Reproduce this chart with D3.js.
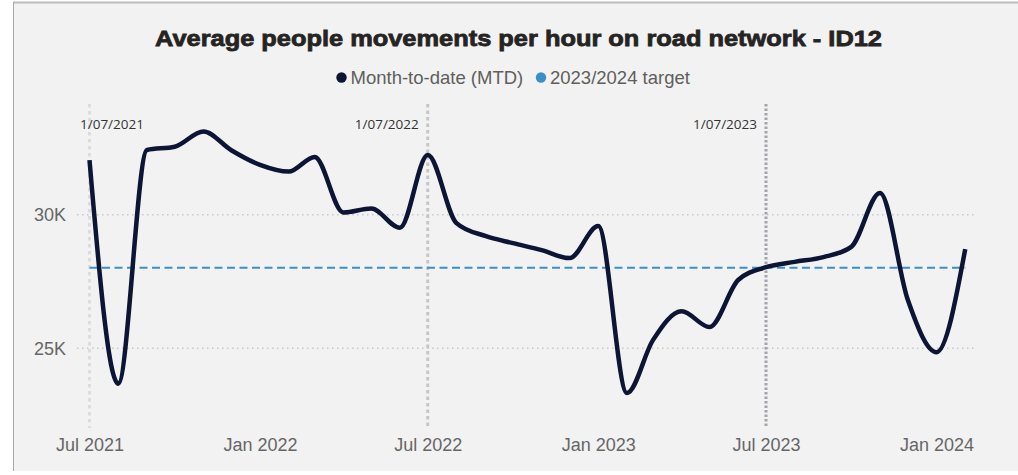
<!DOCTYPE html>
<html>
<head>
<meta charset="utf-8">
<script src="https://cdn.jsdelivr.net/npm/d3@7"></script>
<style>
  html, body { margin: 0; padding: 0; background: #ffffff; }
  svg { display: block; }
</style>
</head>
<body>
<svg id="chart" width="1018" height="475"></svg>
<script>
// Monthly month-to-date averages (thousands of people movements per hour)
const months = [
  "2021-07", "2021-08", "2021-09", "2021-10", "2021-11", "2021-12",
  "2022-01", "2022-02", "2022-03", "2022-04", "2022-05", "2022-06",
  "2022-07", "2022-08", "2022-09", "2022-10", "2022-11", "2022-12",
  "2023-01", "2023-02", "2023-03", "2023-04", "2023-05", "2023-06",
  "2023-07", "2023-08", "2023-09", "2023-10", "2023-11", "2023-12",
  "2024-01", "2024-02"
];
const mtdValues = [
  32.03, 23.66, 32.41, 32.53, 33.10, 32.40,
  31.85, 31.60, 32.15, 30.07, 30.22, 29.50,
  32.22, 29.67, 29.19, 28.92, 28.66, 28.36,
  29.56, 23.31, 25.29, 26.37, 25.78, 27.54,
  28.02, 28.22, 28.40, 28.78, 30.80, 26.80,
  24.84, 28.70
];
const targetValue = 28.0;

// Financial-year start markers
const yearStarts = ["2021-07-01", "2022-07-01", "2023-07-01"];
const yearStartLabels = ["1/07/2021", "1/07/2022", "1/07/2023"];

// Axis ticks
const xTickDates = ["2021-07-01", "2022-01-01", "2022-07-01", "2023-01-01", "2023-07-01", "2024-01-01"];
const xTickLabels = ["Jul 2021", "Jan 2022", "Jul 2022", "Jan 2023", "Jul 2023", "Jan 2024"];
const yTickValues = [25, 30];
const yTickLabels = ["25K", "30K"];

const legendLabels = ["Month-to-date (MTD)", "2023/2024 target"];
const titleText = "Average people movements per hour on road network - ID12";

// ---- drawing ----
const parseMonth = d3.utcParse("%Y-%m");
const parseDay = d3.utcParse("%Y-%m-%d");
const series = months.map((m, i) => ({ date: parseMonth(m), value: mtdValues[i] }));

const svg = d3.select("#chart");
const W = 1018, H = 475;
const plot = { left: 77, right: 977, top: 104, bottom: 428 };

const colors = {
  panel: "#f2f2f2",
  line: "#0c1533",
  target: "#3d8fc8",
  title: "#252423",
  legendText: "#605e5c",
  axisText: "#666666",
  grid: "#c8c8c8"
};

// Visual panel
svg.append("rect").attr("x", 13).attr("y", 2).attr("width", W - 13).attr("height", 469)
  .attr("fill", colors.panel);
svg.append("line").attr("x1", 13).attr("x2", W).attr("y1", 2.5).attr("y2", 2.5)
  .attr("stroke", "#bdbdbd").attr("stroke-width", 2);
svg.append("line").attr("x1", 13.5).attr("x2", 13.5).attr("y1", 2).attr("y2", 471)
  .attr("stroke", "#a9a9a9").attr("stroke-width", 1);

// Scales
const x = d3.scaleUtc()
  .domain([parseDay("2021-07-01"), parseDay("2023-07-01")])
  .range([89.5, 766]);
const y = d3.scaleLinear()
  .domain([22, 34.13])
  .range([plot.bottom, plot.top]);

// Title
svg.append("text")
  .attr("x", 155).attr("y", 46)
  .attr("textLength", 727).attr("lengthAdjust", "spacingAndGlyphs")
  .attr("font-family", "'Liberation Sans', Arial, sans-serif")
  .attr("font-weight", "bold").attr("font-size", 22.5)
  .attr("fill", colors.title).attr("stroke", colors.title).attr("stroke-width", 0.8)
  .text(titleText);

// Legend
const legend = svg.append("g").attr("font-family", "'Liberation Sans', Arial, sans-serif")
  .attr("font-size", 18.5).attr("fill", colors.legendText);
const legendColors = [colors.line, colors.target];
const legendItemX = [341.5, 541];
legendLabels.forEach((lab, i) => {
  legend.append("circle").attr("cx", legendItemX[i]).attr("cy", 77.5).attr("r", 5.2)
    .attr("fill", legendColors[i]);
  legend.append("text").attr("x", legendItemX[i] + 9).attr("y", 84).text(lab);
});

// Horizontal gridlines + y labels
const yAxis = d3.axisLeft(y).tickValues(yTickValues)
  .tickSize(-(plot.right - plot.left))
  .tickFormat((d, i) => yTickLabels[i]);
const gy = svg.append("g").attr("transform", `translate(${plot.left},0)`).call(yAxis);
gy.select(".domain").remove();
gy.selectAll(".tick line").attr("stroke", colors.grid).attr("stroke-width", 1.5)
  .attr("stroke-dasharray", "1.5 3.5");
gy.selectAll(".tick text").attr("x", -11).attr("dy", "0.36em")
  .attr("font-family", "'Liberation Sans', Arial, sans-serif")
  .attr("font-size", 18).attr("fill", colors.axisText);

// X axis labels
const xAxis = d3.axisBottom(x).tickValues(xTickDates.map(parseDay))
  .tickSize(0).tickFormat((d, i) => xTickLabels[i]);
const gx = svg.append("g").attr("transform", `translate(0,${plot.bottom})`).call(xAxis);
gx.select(".domain").remove();
gx.selectAll(".tick text").attr("y", 23).attr("dy", 0)
  .attr("font-family", "'Liberation Sans', Arial, sans-serif")
  .attr("font-size", 18).attr("fill", colors.axisText);

// Year-start reference lines
const refStyles = [
  { stroke: "#dcdcdc", dash: "3.5 3.5" },
  { stroke: "#c6c6c6", dash: "3.5 3" },
  { stroke: "#a3a3ab", dash: "2.5 2" }
];
yearStarts.forEach((ds, i) => {
  const xv = x(parseDay(ds));
  svg.append("line").attr("x1", xv).attr("x2", xv)
    .attr("y1", plot.top).attr("y2", plot.bottom)
    .attr("stroke", refStyles[i].stroke).attr("stroke-width", 3)
    .attr("stroke-dasharray", refStyles[i].dash);
  const t = svg.append("text").attr("y", 129)
    .attr("font-family", "'Open Sans', 'Noto Sans', sans-serif")
    .attr("font-size", 13.5).attr("fill", "#333333")
    .text(yearStartLabels[i]);
  const w = t.node().getComputedTextLength();
  const xr = xv - 9;
  if (xr - w < plot.left + 2) t.attr("x", plot.left + 3);
  else t.attr("x", xr).attr("text-anchor", "end");
});

// Target line
svg.append("line")
  .attr("x1", x(series[0].date)).attr("x2", x(series[series.length - 1].date))
  .attr("y1", y(targetValue)).attr("y2", y(targetValue))
  .attr("stroke", colors.target).attr("stroke-width", 2.2)
  .attr("stroke-dasharray", "8 4.5");

// MTD line
const line = d3.line().x(d => x(d.date)).y(d => y(d.value)).curve(d3.curveMonotoneX);
svg.append("path").datum(series)
  .attr("d", line)
  .attr("fill", "none").attr("stroke", colors.line)
  .attr("stroke-width", 4.5).attr("stroke-linejoin", "round").attr("stroke-linecap", "butt");
</script>
</body>
</html>
